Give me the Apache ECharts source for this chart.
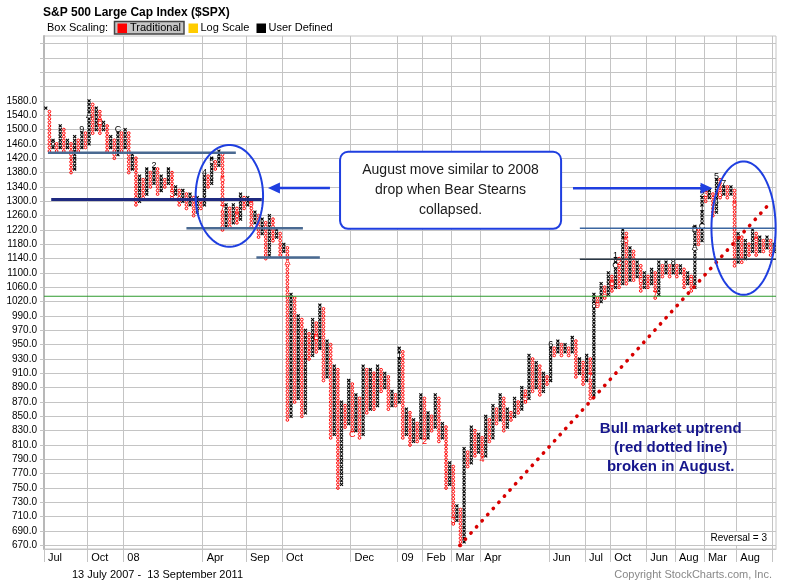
<!DOCTYPE html>
<html><head><meta charset="utf-8">
<script src="https://cdn.jsdelivr.net/npm/echarts@6/dist/echarts.min.js"></script>
<style>html,body{margin:0;padding:0;background:#fff}#c{width:791px;height:580px}</style>
</head><body><div id="c"></div>
<script>
// ---------- DATA ----------
const firstType = 'X';
const firstStart = 1560;
// column extremes (top of X column / bottom of O column), alternating X,O,...
const extremes = [
1560,1440,1470,1440,1510,1440,1470,1380,1480,1440,
1500,1450,1580,1490,1560,1490,1520,1440,1480,1420,
1500,1440,1500,1380,1430,1290,1370,1310,1390,1340,
1400,1320,1370,1340,1390,1310,1340,1290,1330,1280,
1320,1260,1310,1280,1380,1340,1420,1390,1440,1220,
1290,1230,1290,1240,1320,1280,1310,1230,1270,1200,
1250,1140,1260,1190,1220,1150,1180,845,1040,870,
990,850,970,930,985,940,1010,900,955,820,
920,750,870,835,900,825,880,820,920,855,
915,860,920,885,910,860,885,865,945,820,
860,810,845,815,880,815,855,830,880,815,
840,750,785,700,725,670,805,780,835,795,
825,790,850,815,865,840,880,830,860,845,
875,855,890,870,935,885,925,880,910,895,
950,935,955,935,950,935,960,905,930,895,
935,875,1040,1010,1070,1030,1100,1050,1150,1060,
1220,1070,1170,1080,1130,1050,1100,1060,1110,1030,
1130,1090,1130,1090,1130,1090,1120,1060,1100,1050,
1230,1180,1340,1300,1330,1260,1370,1310,1350,1310,
1340,1120,1210,1130,1190,1150,1220,1150,1200,1160,
1200,1150,1180
];
// month markers: [column, price, character]
const monthMarks = [
[2,1460,'8'],[10,1500,'9'],[12,1540,'A'],[15,1520,'B'],[20,1500,'C'],
[30,1400,'2'],[35,1320,'3'],[44,1380,'4'],[46,1410,'5'],[49,1360,'6'],[49,1280,'7'],
[53,1260,'8'],[57,1290,'9'],[67,1130,'A'],[75,960,'B'],[85,825,'C'],
[98,935,'1'],[105,815,'2'],[113,705,'3'],[121,790,'4'],[133,875,'5'],[140,950,'6'],
[151,905,'7'],[152,1010,'8'],[153,1010,'9'],[155,1040,'A'],[157,1070,'B'],
[158,1120,'C'],[158,1150,'1'],[159,1130,'2'],[160,1190,'4'],[161,1190,'5'],
[165,1080,'6'],[169,1040,'7'],[174,1130,'8'],[179,1080,'9'],[180,1170,'A'],[180,1220,'B'],
[182,1230,'C'],[182,1280,'1'],[182,1320,'2'],[183,1320,'3'],[186,1300,'4'],[186,1370,'5'],
[187,1320,'6'],[188,1350,'7'],[191,1290,'8'],[197,1190,'9']
];
const monthCols   = [0,12,22,44,56,66,85,98,105,113,121,140,150,157,167,175,183,192,202];
const monthLabels = ['Jul','Oct','08','Apr','Sep','Oct','Dec','09','Feb','Mar','Apr','Jun','Jul','Oct','Jun','Aug','Mar','Aug',''];
const priceLabels = [670,690,710,730,750,770,790,810,830,850,870,890,910,930,950,970,990,
  1020,1060,1100,1140,1180,1220,1260,1300,1340,1380,1420,1460,1500,1540,1580];
const priceGridExtra = [1620,1660,1700,1740];
// annotation lines: price level, from column, to column
const levelPrices = [1435,1305,1225,1143,1225,1138,1035];
const levelFrom   = [1.1, 2.0, 39.5, 58.9, 148.6, 148.6, 0];
const levelTo     = [53.2,60.4, 71.8, 76.5, 203, 203, 203];
const trendCols   = [115.3, 201.7];
const trendPrices = [670, 1299];

// ---------- HELPERS ----------
const NCOL = 203;
function boxOf(p){ return p <= 1000 ? (p-670)/5 : 66 + (p-1000)/10; }
function priceOf(b){ return b <= 66 ? 670 + 5*b : 1000 + 10*(b-66); }

const markKey = {};
monthMarks.forEach(m => { markKey[m[0] + '_' + Math.round(boxOf(m[1]))] = m[2]; });

const boxes = [], boxChar = [];
let type = firstType, prev = null;
extremes.forEach((e, i) => {
  const endB = Math.round(boxOf(e));
  let startB;
  if (i === 0) startB = Math.round(boxOf(firstStart));
  else startB = type === 'X' ? Math.round(boxOf(prev)) + 1 : Math.round(boxOf(prev)) - 1;
  const lo = Math.min(startB, endB), hi = Math.max(startB, endB);
  for (let b = lo; b <= hi; b++) {
    boxes.push([i + 0.5, b, type === 'X' ? 0 : 1]);
    boxChar.push(markKey[i + '_' + b] || '');
  }
  prev = e; type = type === 'X' ? 'O' : 'X';
});

const labelMap = {};
monthCols.forEach((c, i) => labelMap[c] = monthLabels[i]);
const yLabelVals = priceLabels.map(boxOf);
const yGridVals = yLabelVals.concat(priceGridExtra.map(boxOf));

const FONT = 'Liberation Sans, Arial, sans-serif';
const GRID = '#c4c4c4';
const levelStyles = [
  {color:'#4a6a92', width:2.5},{color:'#1f2a80', width:3},{color:'#4a6a92', width:2.5},
  {color:'#4a6a92', width:2.5},{color:'#3b66a0', width:1.5},{color:'#2a3846', width:1.5},
  {color:'#2e9a2e', width:1}
];

const series = [{
  type: 'custom', silent: true, animation: false, z: 3,
  data: boxes,
  renderItem: function(params, api){
    const p = api.coord([api.value(0), api.value(1)]);
    const t = api.value(2);
    const ch = boxChar[params.dataIndex];
    const col = t === 0 ? '#000000' : '#ff0000';
    if (ch) return {type:'text', x:p[0], y:p[1], style:{text:ch, fill:col, font:'9px ' + FONT, align:'center', verticalAlign:'middle'}};
    if (t === 0) {
      const d = 1.5;
      return {type:'group', children:[
        {type:'line', shape:{x1:p[0]-d,y1:p[1]-d,x2:p[0]+d,y2:p[1]+d}, style:{stroke:'#000', lineWidth:1.1}},
        {type:'line', shape:{x1:p[0]-d,y1:p[1]+d,x2:p[0]+d,y2:p[1]-d}, style:{stroke:'#000', lineWidth:1.1}}
      ]};
    }
    return {type:'circle', shape:{cx:p[0], cy:p[1], r:1.35}, style:{fill:'none', stroke:'#ff0000', lineWidth:1}};
  }
}];
levelPrices.forEach((p, i) => {
  series.push({type:'line', silent:true, animation:false, symbol:'none', z: 5,
    data:[[levelFrom[i], boxOf(p)], [levelTo[i], boxOf(p)]],
    lineStyle: levelStyles[i]});
});
series.push({type:'line', silent:true, animation:false, symbol:'none', z: 6,
  data: trendCols.map((c, i) => [c, boxOf(trendPrices[i])]),
  lineStyle:{color:'#d80000', width:3.6, type:[0.3, 8], cap:'round'}});

const chart = echarts.init(document.getElementById('c'), null, {renderer:'canvas'});
chart.setOption({
  animation: false,
  textStyle: {fontFamily: FONT},
  grid: {left: 44, right: 15, top: 36, bottom: 31, show: true, borderColor: GRID, borderWidth: 1},
  xAxis: {
    type: 'value', min: 0, max: NCOL,
    axisLine: {show: true, onZero: false, lineStyle: {color: GRID}},
    axisTick: {show: true, length: 13, customValues: monthCols, lineStyle: {color: GRID}},
    axisLabel: {customValues: monthCols.slice(0, -1), formatter: v => labelMap[Math.round(v)] || '',
      align: 'left', padding: [0,0,0,4], margin: 3, fontSize: 11, color: '#000', fontFamily: FONT},
    splitLine: {show: true, lineStyle: {color: GRID}}
  },
  yAxis: {
    type: 'value', min: -1, max: 142.1,
    axisLine: {show: true, lineStyle: {color: '#b8b8b8', width: 2}},
    axisTick: {show: true, length: 4, customValues: yGridVals, lineStyle: {color: GRID}},
    axisLabel: {customValues: yLabelVals, formatter: v => priceOf(v).toFixed(1), fontSize: 10, margin: 7, color: '#000', fontFamily: FONT},
    splitLine: {show: true, lineStyle: {color: GRID}}
  },
  series: series
});

// ---------- ANNOTATIONS ----------
const ellipseCenters = [[51.4, 97.5], [194.0, 88.5]];
const ellipseRadii   = [[9.35, 14.2], [8.9, 18.6]];
const arrowTail = [[79.3, 99.7], [146.7, 99.6]];
const arrowTip  = [[62.1, 99.7], [185.4, 99.6]];
const calloutBox = [[82.1, 109.8], [143.4, 88.3]];
const calloutLines = ['August move similar to 2008', 'drop when Bear Stearns', 'collapsed.'];
const noteLines = ['Bull market uptrend', '(red dotted line)', 'broken in August.'];
const noteAnchor = [173.8, 32.5];

function P(x, b){ return chart.convertToPixel({xAxisIndex:0, yAxisIndex:0}, [x, b]); }
const BLUE = '#1f3fe0';
const g = [];
ellipseCenters.forEach((c, i) => {
  const pc = P(c[0], c[1]);
  const pr = P(c[0] + ellipseRadii[i][0], c[1] + ellipseRadii[i][1]);
  const rx = pr[0] - pc[0], ry = pc[1] - pr[1];
  const pts = [];
  for (let k = 0; k < 90; k++) { const a = k / 90 * Math.PI * 2; pts.push([pc[0] + rx*Math.cos(a), pc[1] + ry*Math.sin(a)]); }
  g.push({type:'polygon', shape:{points:pts}, style:{fill:'none', stroke:BLUE, lineWidth:2}, z:100});
});
arrowTail.forEach((t, i) => {
  const a = P(t[0], t[1]), b = P(arrowTip[i][0], arrowTip[i][1]);
  const dir = b[0] > a[0] ? 1 : -1;
  const hl = 12, hw = 5.5;
  g.push({type:'line', shape:{x1:a[0], y1:a[1], x2:b[0] - dir*hl*0.8, y2:b[1]}, style:{stroke:BLUE, lineWidth:2.5}, z:100});
  g.push({type:'polygon', shape:{points:[[b[0], b[1]], [b[0]-dir*hl, b[1]-hw], [b[0]-dir*hl, b[1]+hw]]}, style:{fill:BLUE}, z:100});
});
{
  const a = P(calloutBox[0][0], calloutBox[0][1]), b = P(calloutBox[1][0], calloutBox[1][1]);
  g.push({type:'rect', shape:{x:a[0], y:a[1], width:b[0]-a[0], height:b[1]-a[1], r:8}, style:{fill:'#fff', stroke:BLUE, lineWidth:2}, z:100});
  const cx = (a[0]+b[0])/2;
  calloutLines.forEach((t, i) => g.push({type:'text', x:cx, y:a[1] + 18 + i*20, style:{text:t, fill:'#1a1a1a', font:'14px ' + FONT, align:'center', verticalAlign:'middle'}, z:101}));
}
{
  const a = P(noteAnchor[0], noteAnchor[1]);
  noteLines.forEach((t, i) => g.push({type:'text', x:a[0], y:a[1] + i*19, style:{text:t, fill:'#16168c', font:'bold 15px ' + FONT, align:'center', verticalAlign:'middle'}, z:101}));
}
// reversal box
g.push({type:'rect', shape:{x:708, y:532, width:63, height:13}, style:{fill:'#fff'}, z:100});
g.push({type:'text', x:767, y:538.5, style:{text:'Reversal = 3', fill:'#000', font:'10px ' + FONT, align:'right', verticalAlign:'middle'}, z:101});
// header
g.push({type:'text', x:43, y:12.5, style:{text:'S&P 500 Large Cap Index ($SPX)', fill:'#000', font:'bold 12px ' + FONT, align:'left', verticalAlign:'middle'}});
g.push({type:'text', x:47, y:28, style:{text:'Box Scaling:', fill:'#000', font:'11px ' + FONT, align:'left', verticalAlign:'middle'}});
g.push({type:'rect', shape:{x:114.5, y:21.5, width:69.5, height:12.5}, style:{fill:'#c4c4c4', stroke:'#444', lineWidth:1.5}});
g.push({type:'rect', shape:{x:117.5, y:23.5, width:9.5, height:9.5}, style:{fill:'#ff0000'}});
g.push({type:'text', x:130, y:28, style:{text:'Traditional', fill:'#000', font:'11px ' + FONT, align:'left', verticalAlign:'middle'}});
g.push({type:'rect', shape:{x:188.5, y:23.5, width:9.5, height:9.5}, style:{fill:'#ffcc00'}});
g.push({type:'text', x:200.5, y:28, style:{text:'Log Scale', fill:'#000', font:'11px ' + FONT, align:'left', verticalAlign:'middle'}});
g.push({type:'rect', shape:{x:256.5, y:23.5, width:9.5, height:9.5}, style:{fill:'#000'}});
g.push({type:'text', x:268.5, y:28, style:{text:'User Defined', fill:'#000', font:'11px ' + FONT, align:'left', verticalAlign:'middle'}});
// footer
g.push({type:'text', x:72, y:574.5, style:{text:'13 July 2007 -  13 September 2011', fill:'#000', font:'11px ' + FONT, align:'left', verticalAlign:'middle'}});
g.push({type:'text', x:772, y:574.5, style:{text:'Copyright StockCharts.com, Inc.', fill:'#888', font:'11px ' + FONT, align:'right', verticalAlign:'middle'}});

chart.setOption({graphic: g});
</script></body></html>
